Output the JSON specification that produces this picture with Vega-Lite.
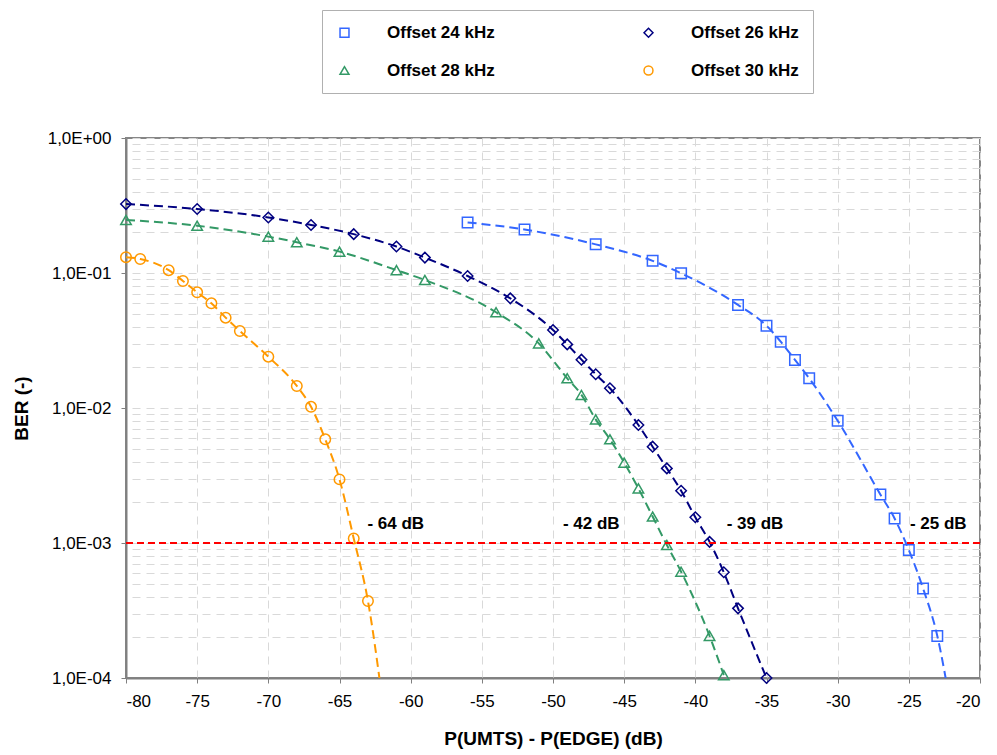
{
  "$schema": "https://vega.github.io/schema/vega-lite/v6.json",
  "width": 854,
  "height": 540,
  "autosize": {"type": "none"},
  "padding": {"left": 126, "top": 138, "right": 17, "bottom": 77},
  "background": "white",
  "config": {
    "font": "Liberation Sans",
    "view": {"stroke": "#868686", "strokeWidth": 2},
    "axis": {
      "domainColor": "#808080",
      "domainWidth": 2,
      "tickColor": "#808080",
      "tickSize": 5,
      "tickWidth": 1,
      "labelFont": "Liberation Sans",
      "labelFontSize": 17,
      "labelColor": "black",
      "titleFont": "Liberation Sans",
      "titleFontSize": 19,
      "titleFontWeight": "bold",
      "titleColor": "black",
      "gridColor": "#d9d9d9",
      "gridDash": [8, 6],
      "gridWidth": 1
    }
  },
  "datasets": {
    "ber": [
      {"series": "Offset 24 kHz", "dB": -56, "BER": 0.237},
      {"series": "Offset 24 kHz", "dB": -52, "BER": 0.21},
      {"series": "Offset 24 kHz", "dB": -47, "BER": 0.163},
      {"series": "Offset 24 kHz", "dB": -43, "BER": 0.123},
      {"series": "Offset 24 kHz", "dB": -41, "BER": 0.0995},
      {"series": "Offset 24 kHz", "dB": -37, "BER": 0.058},
      {"series": "Offset 24 kHz", "dB": -35, "BER": 0.0407},
      {"series": "Offset 24 kHz", "dB": -34, "BER": 0.031},
      {"series": "Offset 24 kHz", "dB": -33, "BER": 0.0227},
      {"series": "Offset 24 kHz", "dB": -32, "BER": 0.0166},
      {"series": "Offset 24 kHz", "dB": -30, "BER": 0.00805},
      {"series": "Offset 24 kHz", "dB": -27, "BER": 0.00229},
      {"series": "Offset 24 kHz", "dB": -26, "BER": 0.00152},
      {"series": "Offset 24 kHz", "dB": -25, "BER": 0.000887},
      {"series": "Offset 24 kHz", "dB": -24, "BER": 0.000461},
      {"series": "Offset 24 kHz", "dB": -23, "BER": 0.000205},
      {"series": "Offset 24 kHz", "dB": -22, "BER": 0.000056},
      {"series": "Offset 26 kHz", "dB": -80, "BER": 0.324},
      {"series": "Offset 26 kHz", "dB": -75, "BER": 0.298},
      {"series": "Offset 26 kHz", "dB": -70, "BER": 0.258},
      {"series": "Offset 26 kHz", "dB": -67, "BER": 0.227},
      {"series": "Offset 26 kHz", "dB": -64, "BER": 0.194},
      {"series": "Offset 26 kHz", "dB": -61, "BER": 0.157},
      {"series": "Offset 26 kHz", "dB": -59, "BER": 0.13},
      {"series": "Offset 26 kHz", "dB": -56, "BER": 0.095},
      {"series": "Offset 26 kHz", "dB": -53, "BER": 0.0649},
      {"series": "Offset 26 kHz", "dB": -50, "BER": 0.0378},
      {"series": "Offset 26 kHz", "dB": -49, "BER": 0.0296},
      {"series": "Offset 26 kHz", "dB": -48, "BER": 0.0228},
      {"series": "Offset 26 kHz", "dB": -47, "BER": 0.0178},
      {"series": "Offset 26 kHz", "dB": -46, "BER": 0.014},
      {"series": "Offset 26 kHz", "dB": -44, "BER": 0.00748},
      {"series": "Offset 26 kHz", "dB": -43, "BER": 0.00517},
      {"series": "Offset 26 kHz", "dB": -42, "BER": 0.00357},
      {"series": "Offset 26 kHz", "dB": -41, "BER": 0.00244},
      {"series": "Offset 26 kHz", "dB": -40, "BER": 0.00155},
      {"series": "Offset 26 kHz", "dB": -39, "BER": 0.00102},
      {"series": "Offset 26 kHz", "dB": -38, "BER": 0.000607},
      {"series": "Offset 26 kHz", "dB": -37, "BER": 0.000328},
      {"series": "Offset 26 kHz", "dB": -35, "BER": 0.0001},
      {"series": "Offset 28 kHz", "dB": -80, "BER": 0.247},
      {"series": "Offset 28 kHz", "dB": -75, "BER": 0.224},
      {"series": "Offset 28 kHz", "dB": -70, "BER": 0.186},
      {"series": "Offset 28 kHz", "dB": -68, "BER": 0.169},
      {"series": "Offset 28 kHz", "dB": -65, "BER": 0.144},
      {"series": "Offset 28 kHz", "dB": -61, "BER": 0.105},
      {"series": "Offset 28 kHz", "dB": -59, "BER": 0.0887},
      {"series": "Offset 28 kHz", "dB": -54, "BER": 0.0512},
      {"series": "Offset 28 kHz", "dB": -51, "BER": 0.0301},
      {"series": "Offset 28 kHz", "dB": -49, "BER": 0.0166},
      {"series": "Offset 28 kHz", "dB": -48, "BER": 0.0125},
      {"series": "Offset 28 kHz", "dB": -47, "BER": 0.00824},
      {"series": "Offset 28 kHz", "dB": -46, "BER": 0.00586},
      {"series": "Offset 28 kHz", "dB": -45, "BER": 0.00394},
      {"series": "Offset 28 kHz", "dB": -44, "BER": 0.00254},
      {"series": "Offset 28 kHz", "dB": -43, "BER": 0.00157},
      {"series": "Offset 28 kHz", "dB": -42, "BER": 0.000966},
      {"series": "Offset 28 kHz", "dB": -41, "BER": 0.000613},
      {"series": "Offset 28 kHz", "dB": -39, "BER": 0.000205},
      {"series": "Offset 28 kHz", "dB": -38, "BER": 0.000105},
      {"series": "Offset 30 kHz", "dB": -80, "BER": 0.131},
      {"series": "Offset 30 kHz", "dB": -79, "BER": 0.127},
      {"series": "Offset 30 kHz", "dB": -77, "BER": 0.105},
      {"series": "Offset 30 kHz", "dB": -76, "BER": 0.0873},
      {"series": "Offset 30 kHz", "dB": -75, "BER": 0.0719},
      {"series": "Offset 30 kHz", "dB": -74, "BER": 0.0596},
      {"series": "Offset 30 kHz", "dB": -73, "BER": 0.0467},
      {"series": "Offset 30 kHz", "dB": -72, "BER": 0.0372},
      {"series": "Offset 30 kHz", "dB": -70, "BER": 0.024},
      {"series": "Offset 30 kHz", "dB": -68, "BER": 0.01456},
      {"series": "Offset 30 kHz", "dB": -67, "BER": 0.0102},
      {"series": "Offset 30 kHz", "dB": -66, "BER": 0.00586},
      {"series": "Offset 30 kHz", "dB": -65, "BER": 0.00296},
      {"series": "Offset 30 kHz", "dB": -64, "BER": 0.00108},
      {"series": "Offset 30 kHz", "dB": -63, "BER": 0.000372},
      {"series": "Offset 30 kHz", "dB": -62, "BER": 0.00007}
    ],
    "threshold": [{"BER": 0.001}],
    "notes": [
      {"dB": -61.05, "BER": 0.00138, "label": "- 64 dB"},
      {"dB": -47.31, "BER": 0.00138, "label": "- 42 dB"},
      {"dB": -35.81, "BER": 0.00138, "label": "- 39 dB"},
      {"dB": -22.93, "BER": 0.00138, "label": "- 25 dB"}
    ]
  },
  "layer": [
    {
      "data": {"name": "ber"},
      "transform": [{"filter": "datum.BER >= 0.0001"}],
      "mark": {"type": "point", "filled": false, "size": 110, "strokeWidth": 1.5, "opacity": 1},
      "encoding": {
        "x": {
          "field": "dB", "type": "quantitative",
          "scale": {"domain": [-80, -20], "nice": false, "zero": false},
          "axis": {
            "values": [-80, -75, -70, -65, -60, -55, -50, -45, -40, -35, -30, -25, -20],
            "grid": true,
            "labelPadding": 10,
            "labelExpr": "'' + datum.value",
            "title": "P(UMTS) - P(EDGE) (dB)",
            "titlePadding": 20
          }
        },
        "y": {
          "field": "BER", "type": "quantitative",
          "scale": {"type": "log", "domain": [0.0001, 1], "nice": false},
          "axis": {
            "orient": "left",
            "values": [0.0001, 0.001, 0.01, 0.1, 1],
            "grid": false,
            "labelPadding": 10,
            "labelExpr": "'1,0E' + (datum.value >= 1 ? '+00' : '-0' + round(-log(datum.value) / LN10))",
            "title": "BER (-)",
            "titlePadding": 16
          }
        },
        "color": {
          "field": "series", "type": "nominal",
          "scale": {
            "domain": ["Offset 24 kHz", "Offset 26 kHz", "Offset 28 kHz", "Offset 30 kHz"],
            "range": ["#3366FF", "#000080", "#339966", "#FF9900"]
          },
          "legend": {
            "orient": "none",
            "direction": "horizontal",
            "legendX": 196,
            "legendY": -128,
            "columns": 2,
            "title": null,
            "padding": 14,
            "strokeColor": "#b0b0b0",
            "fillColor": "white",
            "labelFont": "Liberation Sans",
            "labelFontSize": 17,
            "labelFontWeight": "bold",
            "labelColor": "black",
            "labelLimit": 300,
            "labelOffset": 34,
            "symbolSize": 80,
            "symbolStrokeWidth": 1.5,
            "symbolOpacity": 1,
            "columnPadding": 145,
            "rowPadding": 20
          }
        },
        "shape": {
          "field": "series", "type": "nominal",
          "scale": {
            "domain": ["Offset 24 kHz", "Offset 26 kHz", "Offset 28 kHz", "Offset 30 kHz"],
            "range": ["square", "diamond", "triangle-up", "circle"]
          }
        }
      }
    },
    {
      "data": {"name": "ber"},
      "mark": {"type": "line", "interpolate": "monotone", "strokeDash": [9, 5], "strokeWidth": 2, "clip": true},
      "encoding": {
        "x": {"field": "dB", "type": "quantitative"},
        "y": {
          "field": "BER", "type": "quantitative",
          "axis": {
            "orient": "right",
            "values": [0.0001, 0.0002, 0.0003, 0.0004, 0.0005, 0.0006, 0.0007, 0.0008, 0.0009, 0.001, 0.002, 0.003, 0.004, 0.005, 0.006, 0.007, 0.008, 0.009, 0.01, 0.02, 0.03, 0.04, 0.05, 0.06, 0.07, 0.08, 0.09, 0.1, 0.2, 0.3, 0.4, 0.5, 0.6, 0.7, 0.8, 0.9, 1],
            "grid": true,
            "labels": false,
            "ticks": false,
            "domain": false,
            "title": null
          }
        },
        "stroke": {
          "field": "series", "type": "nominal",
          "scale": {
            "domain": ["Offset 24 kHz", "Offset 26 kHz", "Offset 28 kHz", "Offset 30 kHz"],
            "range": ["#3366FF", "#000080", "#339966", "#FF9900"]
          }
        }
      }
    },
    {
      "data": {"name": "threshold"},
      "mark": {"type": "rule", "color": "#FF0000", "strokeWidth": 2, "strokeDash": [7, 4]},
      "encoding": {
        "y": {"field": "BER", "type": "quantitative", "axis": null}
      }
    },
    {
      "data": {"name": "notes"},
      "mark": {"type": "text", "font": "Liberation Sans", "fontSize": 17, "fontWeight": "bold", "color": "black", "align": "center", "baseline": "middle"},
      "encoding": {
        "x": {"field": "dB", "type": "quantitative"},
        "y": {"field": "BER", "type": "quantitative", "axis": null},
        "text": {"field": "label"}
      }
    }
  ],
  "resolve": {"axis": {"y": "independent"}}
}
